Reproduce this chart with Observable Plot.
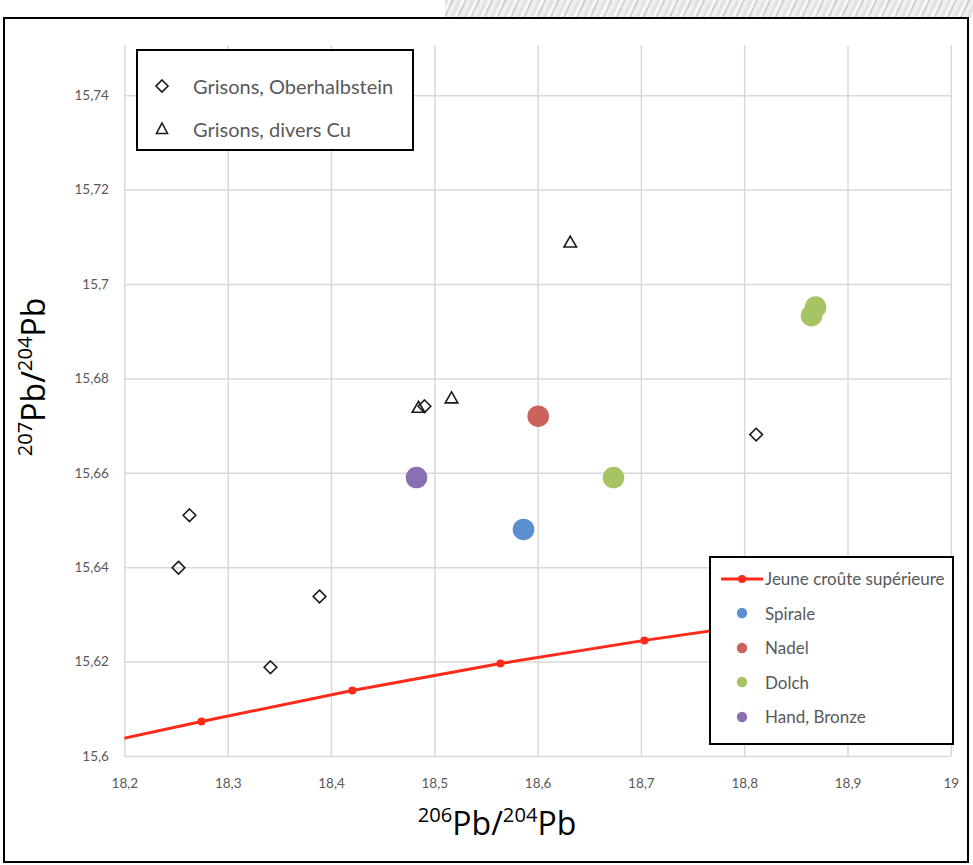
<!DOCTYPE html>
<html><head><meta charset="utf-8">
<script src="https://cdn.jsdelivr.net/npm/d3@7"></script>
<script src="https://cdn.jsdelivr.net/npm/@observablehq/plot@0.6"></script>
<style>
body{margin:0;background:#fff;}
#wrap{position:relative;width:973px;height:865px;overflow:hidden;font-family:Lato,"Open Sans",sans-serif;}
#band{position:absolute;left:445px;top:0;width:528px;height:17px;
  background:repeating-linear-gradient(115deg,#e2e2e2 0 3px,#f6f6f6 3px 6px,#d2d2d2 6px 8px,#efefef 8px 12px);}
#frame{position:absolute;left:3px;top:17px;width:966px;height:846px;border:2.5px solid #000;box-sizing:border-box;pointer-events:none;}
.leg{position:absolute;background:#fff;border:2px solid #000;box-sizing:border-box;}
.row{position:absolute;left:0;display:flex;align-items:center;color:#595959;white-space:nowrap;}
.row svg{display:block;}
.title{position:absolute;color:#000;font-family:"Open Sans",Lato,sans-serif;white-space:nowrap;}
.title sup{font-size:0.63em;vertical-align:0.62em;line-height:0;}
</style></head>
<body><div id="wrap"><div id="band"></div></div>
<script>
// ---- data ----
const xTicks = [18.2, 18.3, 18.4, 18.5, 18.6, 18.7, 18.8, 18.9, 19];
const xTickLabels = ["18,2","18,3","18,4","18,5","18,6","18,7","18,8","18,9","19"];
const yTicks = [15.6, 15.62, 15.64, 15.66, 15.68, 15.7, 15.72, 15.74];
const yTickLabels = ["15,6","15,62","15,64","15,66","15,68","15,7","15,72","15,74"];

// Grisons, Oberhalbstein (diamonds)
const oberX = [18.2625, 18.2519, 18.3884, 18.3409, 18.8111, 18.4900];
const oberY = [15.6511, 15.6400, 15.6339, 15.6189, 15.6682, 15.6742];
// Grisons, divers Cu (triangles)
const cuX = [18.4842, 18.5162, 18.6311];
const cuY = [15.6737, 15.6757, 15.7087];
// Jeune croûte supérieure (growth curve)
const crustX = [18.126, 18.2741, 18.4202, 18.5635, 18.7029, 18.840, 18.975];
const crustY = [15.6004, 15.6074, 15.6140, 15.6197, 15.6246, 15.6289, 15.6328];
// artefacts
const artGroup = ["Spirale", "Nadel", "Dolch", "Dolch", "Dolch", "Hand, Bronze"];
const artX = [18.5859, 18.6001, 18.6730, 18.8686, 18.8647, 18.4823];
const artY = [15.6481, 15.6721, 15.6591, 15.6952, 15.6934, 15.6591];
const groups = ["Spirale", "Nadel", "Dolch", "Hand, Bronze"];
const groupColors = ["#5B8FD0", "#CC625E", "#A6C464", "#8B6FB3"];
const crustColor = "#FF2A1A";

const ober = oberX.map((x, i) => ({x, y: oberY[i]}));
const cu = cuX.map((x, i) => ({x, y: cuY[i]}));
const crust = crustX.map((x, i) => ({x, y: crustY[i]}));
const art = artX.map((x, i) => ({x, y: artY[i], g: artGroup[i]}));
const xLab = new Map(xTicks.map((t, i) => [t.toFixed(2), xTickLabels[i]]));
const yLab = new Map(yTicks.map((t, i) => [t.toFixed(2), yTickLabels[i]]));

const plot = Plot.plot({
  width: 973, height: 865,
  marginLeft: 124.4, marginRight: 22.2, marginTop: 48, marginBottom: 109,
  style: {fontFamily: "Lato, 'Open Sans', sans-serif", fontSize: "13.5px", color: "#595959", background: "transparent", overflow: "visible"},
  x: {domain: [18.2, 19], ticks: xTicks, tickFormat: d => xLab.get((+d).toFixed(2)), tickSize: 0, tickPadding: 22, label: null},
  y: {domain: [15.6, 15.75], ticks: yTicks, tickFormat: d => yLab.get((+d).toFixed(2)), tickSize: 0, tickPadding: 16, label: null},
  color: {domain: groups, range: groupColors},
  marks: [
    Plot.ruleX(xTicks, {x: d => d, y1: 15.6, y2: 15.7506, stroke: "#d9d9d9", strokeWidth: 1.5}),
    Plot.ruleY(yTicks, {y: d => d, stroke: "#d9d9d9", strokeWidth: 1.5}),
    Plot.line(crust, {x: "x", y: "y", stroke: crustColor, strokeWidth: 3, clip: true}),
    Plot.dot(crust, {x: "x", y: "y", r: 4, fill: crustColor, clip: true}),
    Plot.dot(ober, {x: "x", y: "y", symbol: "diamond2", r: 5.7, stroke: "#1a1a1a", strokeWidth: 1.6, fill: "none"}),
    Plot.dot(cu, {x: "x", y: "y", symbol: "triangle2", r: 6, stroke: "#1a1a1a", strokeWidth: 1.6, fill: "none"}),
    Plot.dot(art, {x: "x", y: "y", r: 10.8, fill: "g"})
  ]
});
const wrap = document.getElementById("wrap");
plot.style.position = "absolute"; plot.style.left = "0"; plot.style.top = "0";
wrap.appendChild(plot);

function el(tag, cls, css, html) {
  const e = document.createElement(tag);
  if (cls) e.className = cls;
  Object.assign(e.style, css || {});
  if (html != null) e.innerHTML = html;
  return e;
}
// legend 1
const l1 = el("div", "leg", {left: "136px", top: "49px", width: "278px", height: "102px"});
const sym1 = [
  '<svg width="20" height="20" viewBox="-10 -10 20 20"><path d="M0,-6L6,0L0,6L-6,0Z" fill="none" stroke="#1a1a1a" stroke-width="1.6"/></svg>',
  '<svg width="20" height="20" viewBox="-10 -10 20 20"><path d="M0,-6L5.5,4.5L-5.5,4.5Z" fill="none" stroke="#1a1a1a" stroke-width="1.6"/></svg>'
];
["Grisons, Oberhalbstein", "Grisons, divers Cu"].forEach((t, i) => {
  const r = el("div", "row", {top: (i === 0 ? 22 : 65) + "px", left: "14px", fontSize: "20px", height: "26px"},
    sym1[i] + '<span style="margin-left:21px">' + t + '</span>');
  l1.appendChild(r);
});
wrap.appendChild(l1);
// legend 2
const l2 = el("div", "leg", {left: "709px", top: "556px", width: "245px", height: "189px"});
const items = [{t: "Jeune croûte supérieure", c: crustColor, line: true}].concat(groups.map((g, i) => ({t: g, c: groupColors[i]})));
items.forEach((it, i) => {
  const sv = it.line
    ? `<svg width="44" height="12" viewBox="0 0 44 12"><line x1="1" y1="6" x2="43" y2="6" stroke="${it.c}" stroke-width="3"/><circle cx="22" cy="6" r="4" fill="${it.c}"/></svg>`
    : `<svg width="44" height="12" viewBox="0 0 44 12"><circle cx="22" cy="6" r="5.2" fill="${it.c}"/></svg>`;
  const r = el("div", "row", {top: (8 + i * 34.6) + "px", left: "9px", fontSize: "17px", height: "25px"},
    sv + '<span style="margin-left:1px">' + it.t + '</span>');
  l2.appendChild(r);
});
wrap.appendChild(l2);
// axis titles
const xt = el("div", "title", {left: "497px", top: "822px", fontSize: "32px", transform: "translate(-50%,-50%)"},
  "<sup>206</sup>Pb/<sup>204</sup>Pb");
wrap.appendChild(xt);
const yt = el("div", "title", {left: "32px", top: "377px", fontSize: "32px", transform: "translate(-50%,-50%) rotate(-90deg)"},
  "<sup>207</sup>Pb/<sup>204</sup>Pb");
wrap.appendChild(yt);
wrap.appendChild(el("div", null, {}, null)).id = "frame";
</script>
</body></html>
